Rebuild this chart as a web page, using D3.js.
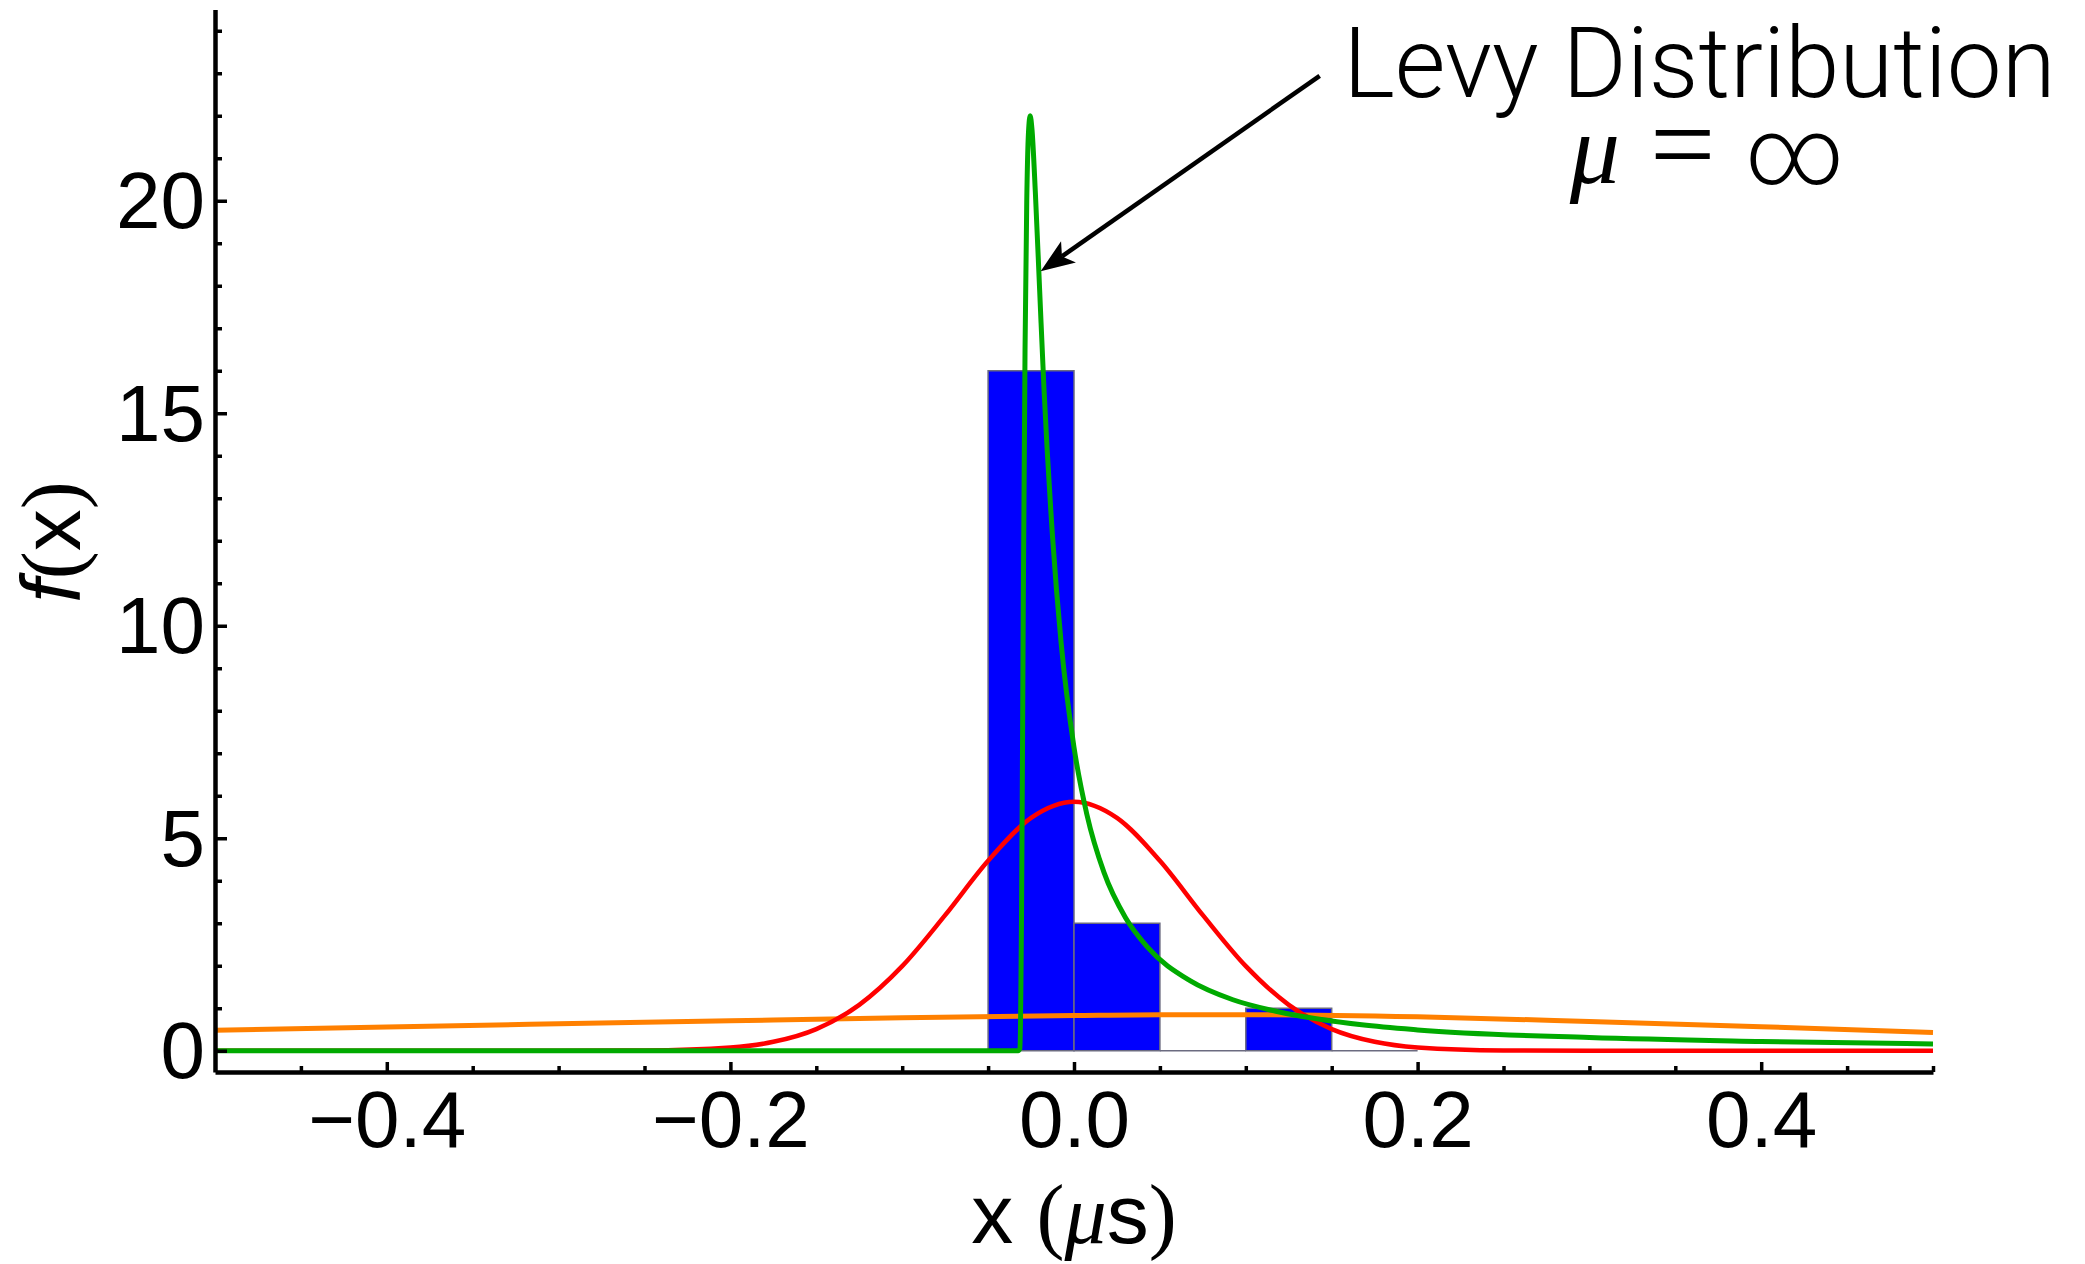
<!DOCTYPE html>
<html>
<head>
<meta charset="utf-8">
<script src="https://cdn.jsdelivr.net/npm/d3@7"></script>
<style>
  html, body { margin: 0; padding: 0; background: #fff; }
  svg { display: block; }
</style>
</head>
<body>
<svg id="chart" width="2085" height="1264"></svg>
<script>
// Histogram of the measured delays (probability density per 0.05 µs bin)
const binEdges   = [-0.05, 0.0, 0.05, 0.10, 0.15, 0.20];
const binDensity = [16, 3, 0, 1, 0];

// Normal fit (red)
const normalX = [-0.5, -0.3, -0.25, -0.2, -0.175, -0.15, -0.125, -0.1, -0.075, -0.05, -0.025, 0.0,
                 0.025, 0.05, 0.075, 0.1, 0.125, 0.15, 0.175, 0.2, 0.25, 0.3, 0.5];
const normalY = [0, 0, 0.007, 0.077, 0.21, 0.51, 1.08, 1.99, 3.19, 4.47, 5.48, 5.86,
                 5.48, 4.47, 3.19, 1.99, 1.08, 0.51, 0.21, 0.077, 0.007, 0, 0];

// Levy fit (green)
const levyX = [-0.5, -0.0325, -0.0315, -0.0305, -0.0295, -0.0285, -0.0275, -0.0265, -0.0255, -0.0245,
               -0.0225, -0.02, -0.0175, -0.0125, -0.0075, 0.0, 0.0075, 0.0175, 0.03, 0.0425, 0.0675,
               0.0925, 0.1175, 0.1675, 0.2, 0.3, 0.4, 0.5];
const levyY = [0, 0, 0.05, 3.4, 10.6, 16.5, 20.0, 21.6, 22.0, 21.7,
               20.2, 17.9, 15.6, 12.1, 9.6, 7.14, 5.56, 4.19, 3.13, 2.45, 1.65,
               1.20, 0.93, 0.61, 0.49, 0.31, 0.22, 0.16];

// Broad fit (orange)
const broadX = [-0.5, -0.4, -0.3, -0.2, -0.1, 0.0, 0.05, 0.1, 0.2, 0.3, 0.4, 0.5];
const broadY = [0.48, 0.56, 0.635, 0.705, 0.775, 0.83, 0.85, 0.85, 0.80, 0.69, 0.565, 0.43];

// Axis ticks
const xMajorTicks = [-0.4, -0.2, 0.0, 0.2, 0.4];
const xMinorTicks = [-0.45, -0.35, -0.3, -0.25, -0.15, -0.1, -0.05, 0.05, 0.1, 0.15, 0.25, 0.3, 0.35, 0.45, 0.5];
const yMajorTicks = [0, 5, 10, 15, 20];
const yMinorTicks = [1, 2, 3, 4, 6, 7, 8, 9, 11, 12, 13, 14, 16, 17, 18, 19, 21, 22, 23, 24];

// Annotation (data coordinates)
const annotationTitle = "Levy Distribution";
const annotationAt = [0.364, 22.45];
const annotationMathAt = [0.366, 20.42];
const arrowFrom = [0.143, 22.94];
const arrowTo = [-0.0194, 18.34];

const svg = d3.select("#chart");
const x = d3.scaleLinear().domain([-0.5, 0.5]).range([215, 1933]);
const y = d3.scaleLinear().domain([-0.5, 24.5]).range([1072, 9.5]);

const FONT = "'Liberation Sans', Arial, Helvetica, sans-serif";
const SERIF = "'Liberation Serif', 'DejaVu Serif', serif";
const LIGHT = "Roboto, 'Liberation Sans', sans-serif";

// Histogram bars
const bars = binDensity.map((v, i) => ({ x0: binEdges[i], x1: binEdges[i + 1], v }));
svg.append("g").selectAll("path").data(bars).join("path")
  .attr("d", d => `M${x(d.x0)},${y(0)}V${y(d.v)}H${x(d.x1)}V${y(0)}Z`)
  .attr("fill", "#0000ff")
  .attr("stroke", "#6b6b80")
  .attr("stroke-width", 1.5);

// Fitted curves
function drawCurve(xs, ys, color, width) {
  const pts = xs.map((v, i) => [v, ys[i]]);
  svg.append("path")
    .datum(pts)
    .attr("fill", "none")
    .attr("stroke", color)
    .attr("stroke-width", width)
    .attr("stroke-linejoin", "round")
    .attr("d", d3.line().x(d => x(d[0])).y(d => y(d[1])).curve(d3.curveMonotoneX));
}
drawCurve(broadX, broadY, "#ff8000", 5);
drawCurve(normalX, normalY, "#ff0000", 4.5);
drawCurve(levyX, levyY, "#00aa00", 5);

// Axes
const axisG = svg.append("g").attr("font-family", FONT);

const yAxis = axisG.append("g").attr("transform", `translate(${x(-0.5)},0)`)
  .call(d3.axisLeft(y).tickValues(yMajorTicks).tickSizeInner(-12).tickSizeOuter(0)
        .tickPadding(10).tickFormat(d3.format("d")));
axisG.append("g").attr("transform", `translate(${x(-0.5)},0)`)
  .call(d3.axisLeft(y).tickValues(yMinorTicks).tickSizeInner(-7).tickSizeOuter(0).tickFormat(""))
  .select(".domain").remove();

const xAxis = axisG.append("g").attr("transform", `translate(0,${y(-0.5)})`)
  .call(d3.axisBottom(x).tickValues(xMajorTicks).tickSizeInner(-10).tickSizeOuter(0)
        .tickPadding(18).tickFormat(d3.format(".1f")));
axisG.append("g").attr("transform", `translate(0,${y(-0.5)})`)
  .call(d3.axisBottom(x).tickValues(xMinorTicks).tickSizeInner(-6).tickSizeOuter(0).tickFormat(""))
  .select(".domain").remove();

axisG.selectAll(".domain").attr("stroke", "#000").attr("stroke-width", 4.5);
axisG.selectAll(".tick line").attr("stroke", "#000").attr("stroke-width", 3.5);
axisG.selectAll(".tick text").attr("fill", "#000").attr("font-size", 80).attr("font-family", FONT);
yAxis.selectAll(".tick text").attr("dy", "0.34em");

// Axis titles
const xTitle = svg.append("text")
  .attr("x", x(0)).attr("y", 1243)
  .attr("text-anchor", "middle")
  .attr("font-family", FONT).attr("font-size", 84).attr("fill", "#000");
xTitle.append("tspan").text("x ");
xTitle.append("tspan").attr("font-family", SERIF).text("(");
xTitle.append("tspan").attr("font-family", SERIF).attr("font-style", "italic").text("μ");
xTitle.append("tspan").text("s");
xTitle.append("tspan").attr("font-family", SERIF).text(")");

const yTitle = svg.append("text")
  .attr("transform", "translate(80,542) rotate(-90)")
  .attr("text-anchor", "middle")
  .attr("font-family", FONT).attr("font-size", 84).attr("fill", "#000");
yTitle.append("tspan").attr("font-style", "italic").text("f");
yTitle.append("tspan").attr("font-family", SERIF).text("(");
yTitle.append("tspan").text("x");
yTitle.append("tspan").attr("font-family", SERIF).text(")");

// Annotation with arrow
svg.append("text")
  .attr("x", x(annotationAt[0])).attr("y", y(annotationAt[1]))
  .attr("text-anchor", "middle")
  .attr("font-family", LIGHT)
  .attr("font-weight", 300)
  .attr("font-size", 98)
  .attr("fill", "#000")
  .text(annotationTitle);

// "μ = ∞" set as three pieces around the line's centre
const mcx = x(annotationMathAt[0]), mby = y(annotationMathAt[1]);
const mathParts = [
  { t: "μ", dx: -108, dy: 0, family: SERIF, style: "italic", weight: 400, size: 100 },
  { t: "=", dx: -20, dy: 0, family: SERIF, style: "normal", weight: 400, size: 116 },
  { t: "∞", dx: 92, dy: 1, family: LIGHT, style: "normal", weight: 300, size: 94 }
];
svg.append("g").selectAll("text").data(mathParts).join("text")
  .attr("x", d => mcx + d.dx).attr("y", d => mby + d.dy)
  .attr("text-anchor", "middle")
  .attr("font-family", d => d.family)
  .attr("font-style", d => d.style)
  .attr("font-weight", d => d.weight)
  .attr("font-size", d => d.size)
  .attr("fill", "#000")
  .text(d => d.t);

const [sx, sy] = [x(arrowFrom[0]), y(arrowFrom[1])];
const [tx, ty] = [x(arrowTo[0]), y(arrowTo[1])];
const len = Math.hypot(sx - tx, sy - ty);
const ux = (sx - tx) / len, uy = (sy - ty) / len;
const headLen = 34, headHalf = 13, notch = 26;
const bx = tx + ux * headLen, by = ty + uy * headLen;
svg.append("line")
  .attr("x1", sx).attr("y1", sy)
  .attr("x2", tx + ux * notch).attr("y2", ty + uy * notch)
  .attr("stroke", "#000").attr("stroke-width", 4.5);
svg.append("path")
  .attr("d", `M${tx},${ty}L${bx - uy * headHalf},${by + ux * headHalf}` +
             `L${tx + ux * notch},${ty + uy * notch}L${bx + uy * headHalf},${by - ux * headHalf}Z`)
  .attr("fill", "#000");
</script>
</body>
</html>
